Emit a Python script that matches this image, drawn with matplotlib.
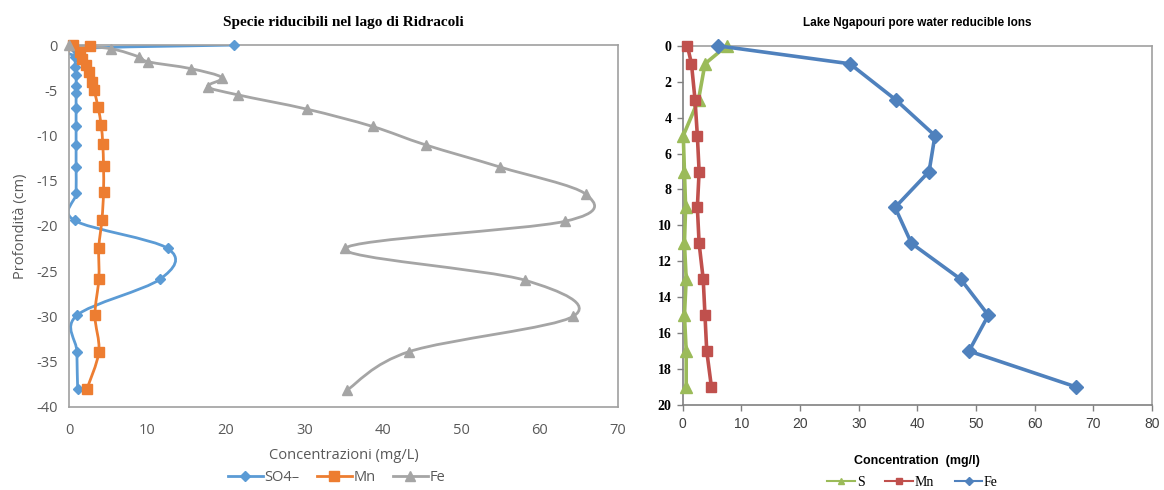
import matplotlib
matplotlib.use("Agg")
import matplotlib.pyplot as plt
from matplotlib.path import Path
from matplotlib.patches import PathPatch
from matplotlib.lines import Line2D
import numpy as np

plt.rcParams["axes.unicode_minus"] = False

# ---- left chart: Ridracoli (depth negative, cm) ----
so4_conc = [21.0, 0.8, 0.8, 0.8, 0.9, 0.9, 0.9, 0.9, 0.9, 0.9, 0.9, 0.9, 0.7, 12.6, 11.6, 1.0, 1.0, 1.1]
so4_depth = [0, -0.4, -1.3, -2.4, -3.3, -4.5, -5.3, -7.0, -9.0, -11.1, -13.5, -16.4, -19.4, -22.5, -25.9, -29.9, -33.9, -38.0]

mn_conc = [0.5, 2.7, 1.4, 1.7, 2.2, 2.5, 2.9, 3.2, 3.7, 4.1, 4.3, 4.4, 4.4, 4.2, 3.8, 3.8, 3.3, 3.8, 2.3]
mn_depth = [0, -0.1, -0.75, -1.5, -2.2, -2.95, -4.05, -5.0, -6.85, -8.85, -10.9, -13.4, -16.3, -19.3, -22.4, -25.9, -29.9, -33.9, -38.0]

fe_conc = [0, 5.3, 8.9, 10.1, 15.5, 19.5, 17.7, 21.5, 30.4, 38.7, 45.5, 55.0, 65.9, 63.2, 35.2, 58.1, 64.3, 43.4, 35.4]
fe_depth = [0, -0.4, -1.3, -1.85, -2.6, -3.6, -4.6, -5.5, -7.1, -9.0, -11.05, -13.5, -16.5, -19.5, -22.5, -26.0, -30.0, -33.9, -38.2]

# ---- right chart: Lake Ngapouri (depth positive, inverted) ----
ng_depth = [0, 1, 3, 5, 7, 9, 11, 13, 15, 17, 19]
ng_s = [7.5, 3.8, 2.7, 0.1, 0.3, 0.5, 0.3, 0.6, 0.3, 0.6, 0.6]
ng_mn = [0.8, 1.5, 2.1, 2.5, 2.8, 2.5, 2.8, 3.5, 3.8, 4.1, 4.9]
ng_fe = [6.0, 28.5, 36.3, 43.0, 42.0, 36.2, 39.0, 47.4, 52.1, 48.8, 67.1]

left_xticks = [0, 10, 20, 30, 40, 50, 60, 70]
left_yticks = [0, -5, -10, -15, -20, -25, -30, -35, -40]
right_xticks = [0, 10, 20, 30, 40, 50, 60, 70, 80]
right_yticks = [0, 2, 4, 6, 8, 10, 12, 14, 16, 18, 20]


def smooth_path(xs, ys):
    # Excel-style smoothed line: cubic bezier through the points
    p = np.column_stack([xs, ys]).astype(float)
    verts = [p[0]]
    codes = [Path.MOVETO]
    n = len(p)
    for i in range(n - 1):
        p0 = p[i - 1] if i > 0 else p[i]
        p1 = p[i]
        p2 = p[i + 1]
        p3 = p[i + 2] if i + 2 < n else p[i + 1]
        verts += [p1 + (p2 - p0) / 6.0, p2 - (p3 - p1) / 6.0, p2]
        codes += [Path.CURVE4] * 3
    return Path(verts, codes)


fig = plt.figure(figsize=(11.64, 4.9), dpi=100)

# ================= left =================
ax1 = fig.add_axes([0.0593, 0.170, 0.4716, 0.738])
grey_txt = "#595959"
left_series = [
    (so4_conc, so4_depth, "#5B9BD5", "D", 5.5, "SO4\u2013"),
    (mn_conc, mn_depth, "#ED7D31", "s", 6.5, "Mn"),
    (fe_conc, fe_depth, "#A5A5A5", "^", 7.5, "Fe"),
]
handles1 = []
for xs, ys, col, mk, ms, lab in left_series:
    ax1.add_patch(PathPatch(smooth_path(xs, ys), fill=False, edgecolor=col, lw=2.0))
    ax1.plot(xs, ys, linestyle="none", marker=mk, ms=ms, color=col, clip_on=False, zorder=3)
    handles1.append(Line2D([], [], color=col, lw=2.0, marker=mk, ms=ms, label=lab))

ax1.set_xlim(0, 70)
ax1.set_ylim(-40, 0)
ax1.set_xticks(left_xticks)
ax1.set_yticks(left_yticks)
for sp in ax1.spines.values():
    sp.set_color("#A0A0A0")
    sp.set_linewidth(1.2)
ax1.tick_params(length=0, labelsize=10.5, labelcolor=grey_txt)
ax1.tick_params(axis="x", pad=12)
ax1.tick_params(axis="y", pad=8)
for t in ax1.get_xticklabels() + ax1.get_yticklabels():
    t.set_family("Open Sans")
ax1.set_xlabel("Concentrazioni (mg/L)", fontsize=10.5, color=grey_txt, family="Open Sans", labelpad=7)
ax1.set_ylabel("Profondit\u00e0 (cm)", fontsize=10.5, color=grey_txt, family="Open Sans", labelpad=6)
ax1.set_title("Specie riducibili nel lago di Ridracoli", fontsize=11, fontweight="bold",
              family="Liberation Serif", pad=14)
fig.legend(handles=handles1, loc="center", bbox_to_anchor=(0.289, 0.025), ncol=3, frameon=False,
           labelcolor=grey_txt, handlelength=2.4, handletextpad=0.1, columnspacing=1.2,
           prop={"family": "Open Sans", "size": 10.5})

# ================= right =================
ax2 = fig.add_axes([0.5865, 0.1735, 0.4032, 0.733])
right_series = [
    (ng_s, "#9BBB59", "^", 8, "S"),
    (ng_mn, "#C0504D", "s", 7.5, "Mn"),
    (ng_fe, "#4F81BD", "D", 7, "Fe"),
]
handles2 = []
for vals, col, mk, ms, lab in right_series:
    ax2.plot(vals, ng_depth, color=col, lw=2.6, marker=mk, ms=ms, clip_on=False, zorder=3)
    handles2.append(Line2D([], [], color=col, lw=1.5, marker=mk, ms=4.5, label=lab))

ax2.set_xlim(0, 80)
ax2.set_ylim(20, 0)
ax2.set_xticks(right_xticks)
ax2.set_yticks(right_yticks)
for sp in ax2.spines.values():
    sp.set_color("#A0A0A0")
    sp.set_linewidth(1.2)
ax2.spines["left"].set_color("#808080")
ax2.spines["bottom"].set_color("#808080")
ax2.tick_params(direction="out", length=4, width=1, color="#808080")
ax2.tick_params(axis="y", labelsize=10, pad=4)
ax2.tick_params(axis="x", labelsize=10, labelcolor="#404040", pad=5)
for t in ax2.get_yticklabels():
    t.set_family("Liberation Serif")
    t.set_fontweight("bold")
for t in ax2.get_xticklabels():
    t.set_family("Liberation Sans")
ax2.set_xlabel("Concentration  (mg/l)", fontsize=9, fontweight="bold", family="Liberation Sans", labelpad=17)
ax2.set_title("Lake Ngapouri pore water reducible Ions", fontsize=8.5, fontweight="bold",
              family="Liberation Sans", pad=14)
fig.legend(handles=handles2, loc="center", bbox_to_anchor=(0.784, 0.016), ncol=3, frameon=False,
           handlelength=2.0, handletextpad=0.1, columnspacing=1.5,
           prop={"family": "Liberation Serif", "size": 10})

plt.savefig("out.png", dpi=100)
plt.close()
